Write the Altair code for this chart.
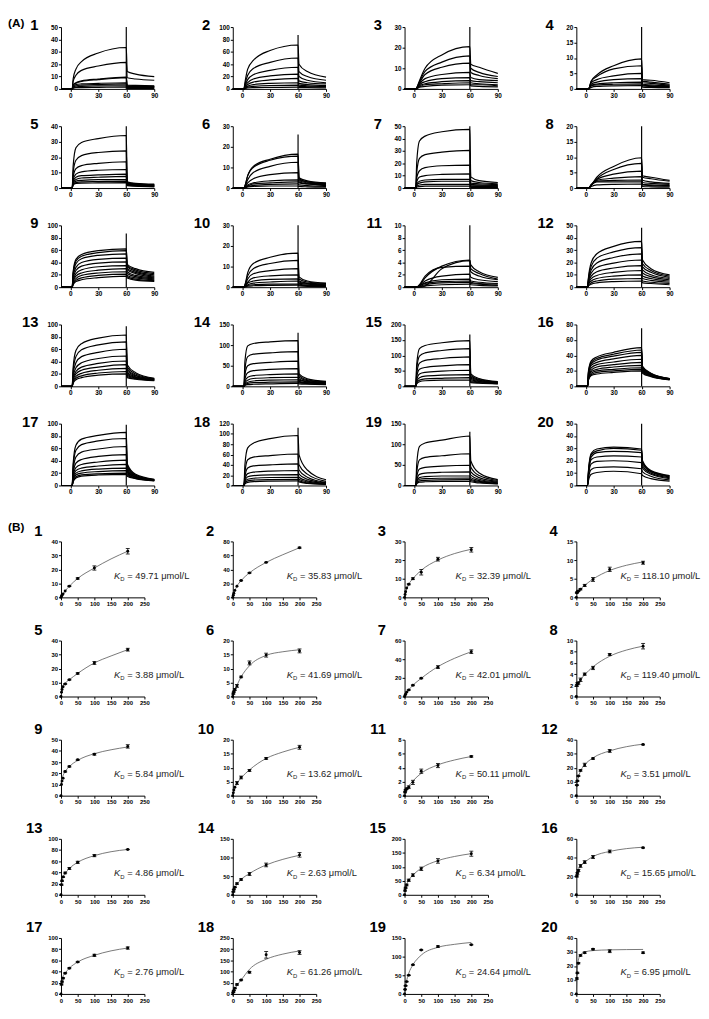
import altair as alt
import pandas as pd

FONT = "Liberation Sans"

# ---------------- (A) sensorgrams ----------------
# sampling times (s) for association and dissociation phases
T_ON = [3, 6, 12, 30, 60]
T_OFF = [61, 70, 90]

A01 = [[8, 16, 22, 29, 33.5, 14, 12, 10], [6, 11, 15, 18.5, 21.5, 9, 8, 7],
       [3, 5, 6.5, 8, 9.5, 3, 2.8, 2.5], [3, 4.5, 6, 7.5, 9, 2.5, 2.3, 2],
       [2, 3.5, 4, 4.5, 5, 2, 2, 1.8], [1.5, 2.5, 3, 3.5, 4, 1.5, 1.5, 1.5],
       [1, 1.5, 2, 2.5, 2.5, 1, 1, 1], [0.5, 1, 1, 1.2, 1.5, 0.5, 0.5, 0.5]]
A02 = [[10, 32, 46, 62, 71, 40, 28, 19], [7, 22, 33, 43, 50, 28, 20, 14],
       [5, 15, 23, 30, 35, 20, 14, 10], [4, 10, 16, 21, 24, 13, 10, 8],
       [3, 7, 11, 14.5, 17, 9, 7, 5.5], [2, 4.5, 7, 9, 10, 6, 5, 4],
       [1, 3, 4, 5.5, 6, 4, 3.5, 3], [0.5, 1.5, 2, 2.5, 3, 2, 2, 1.5]]
A03 = [[0.5, 4, 10, 16.5, 20.5, 12, 10.5, 7.5], [0.5, 3.5, 8.5, 13, 16, 10, 8, 6],
       [0.4, 3, 7, 10.5, 12.5, 8, 6.5, 5], [0.3, 2.5, 5, 7, 8, 5.5, 4.5, 4],
       [0.3, 2, 3.5, 5, 5.5, 4, 3.5, 3], [0.2, 1.5, 2.5, 3.5, 4, 3, 2.5, 2],
       [0.2, 1, 2, 2.5, 3, 2, 2, 1.5], [0.1, 0.8, 1.2, 1.8, 2, 1.5, 1.2, 1]]
A04 = [[0, 2.5, 4.5, 7.5, 9.7, 3, 2.8, 2], [0, 2.5, 4, 6.5, 7.5, 2.5, 2.2, 1.5],
       [0, 2, 3, 4.2, 5, 2, 1.8, 1.2], [0, 1.5, 2.2, 3, 3.3, 1.5, 1.3, 1],
       [0, 1.2, 1.6, 2, 2.2, 1.2, 1, 0.8], [0, 1, 1.3, 1.5, 1.6, 1, 0.8, 0.6],
       [0, 0.5, 0.8, 1, 1.1, 0.6, 0.5, 0.4]]
A05 = [[14, 26, 29.5, 32, 34, 4, 3, 2.5], [10, 18, 21, 23, 24, 3.5, 2.8, 2.2],
       [7, 12.5, 14.5, 16, 17, 3, 2.5, 2], [5, 9, 10.5, 11.5, 12, 2.8, 2.2, 1.8],
       [4, 7, 8, 8.5, 9, 2.5, 2, 1.6], [3.5, 5.5, 6.5, 7, 7.5, 2.2, 1.8, 1.4],
       [3, 4.5, 5, 5.5, 5.5, 2, 1.6, 1.2], [2.5, 3.5, 4, 4.2, 4.5, 1.8, 1.4, 1],
       [2, 3, 3.2, 3.3, 3.5, 1.5, 1.2, 0.8]]
A06 = [[1, 6, 10.5, 14, 16.5, 5, 3.5, 2.5], [1, 6, 10, 13.5, 15.5, 4.5, 3, 2.2],
       [0.8, 4, 7.5, 10.5, 12.5, 4, 3, 2], [0.5, 2.5, 4.5, 6.5, 7.5, 3.5, 2.5, 1.8],
       [0.4, 1.5, 2.5, 3.5, 4, 3, 2, 1.5], [0.3, 1, 2, 2.5, 3, 2.5, 2, 1.2],
       [0.2, 0.8, 1.3, 1.8, 2, 1.5, 1.2, 0.8], [0.1, 0.5, 0.8, 1, 1, 0.8, 0.6, 0.4]]
A07 = [[20, 38, 42, 45.5, 47.5, 9, 6, 4.5], [12, 24, 27, 29, 30.5, 6, 4.5, 3.5],
       [8, 14, 16.5, 18, 18.5, 4, 3.5, 2.8], [5, 9, 10, 11, 11.5, 3, 2.5, 2],
       [3, 5.5, 6.5, 7, 7, 2, 1.8, 1.5], [2.5, 4, 5, 5.5, 5.5, 1.5, 1.3, 1],
       [1.5, 2.5, 3, 3, 3, 1, 1, 0.8], [0.8, 1.2, 1.5, 1.5, 1.5, 0.5, 0.5, 0.5]]
A08 = [[0, 1, 3.5, 7, 9.8, 4, 3.5, 2.5], [0, 1, 3, 6, 8, 3.5, 3, 2.2],
       [0, 1, 2.8, 4.5, 5.5, 2.5, 2, 1.5], [0, 1, 2.5, 3.2, 3.7, 1.8, 1.5, 1.2],
       [0, 1, 2.2, 2.5, 2.6, 1.2, 1, 0.8], [0, 1, 2, 2, 2, 1, 0.8, 0.6],
       [0, 0.5, 1, 1.2, 1.3, 0.5, 0.4, 0.3]]
A09 = [[25, 45, 53, 59, 62, 37, 30, 24], [22, 42, 50, 56, 59, 35, 28, 22],
       [20, 38, 46, 51.5, 54, 33, 26, 20], [17, 32, 40, 45, 47, 30, 24, 18],
       [14, 27, 34, 39, 41, 28, 22, 16.5], [11, 22, 28, 33, 35, 25, 19, 15],
       [9, 18, 23, 27.5, 30, 22, 17, 13.5], [7, 14, 19, 23, 25, 19, 15, 12],
       [5, 11, 15, 19, 21, 17, 13, 10.5], [4, 9, 12, 15.5, 18, 15, 11.5, 9.5]]
A10 = [[1, 7, 11.5, 14.5, 16.5, 5, 3, 2], [1, 5.5, 9, 11.5, 13, 4, 2.5, 1.8],
       [0.8, 4, 6.5, 8, 9, 3, 2, 1.5], [0.5, 2.5, 4.5, 5.5, 6, 2.5, 1.8, 1.2],
       [0.4, 2, 3, 3.8, 4, 2, 1.5, 1], [0.3, 1.2, 2, 2.5, 3, 1.5, 1, 0.8],
       [0.2, 0.8, 1.2, 1.5, 1.5, 1, 0.8, 0.5], [0.1, 0.5, 0.7, 0.9, 1, 0.6, 0.4, 0.3]]
A11 = [[0, 0.3, 1.5, 3.4, 4.4, 3.6, 2.5, 1.6], [0, 0, 0.2, 3, 4.3, 3, 2.2, 1.3],
       [0, 0.4, 1.8, 3.2, 3.4, 2.5, 1.8, 1.2], [0, 0.3, 1, 1.8, 2.1, 1.6, 1.2, 0.9],
       [0, 0.2, 0.7, 1.2, 1.3, 1, 0.8, 0.6], [0, 0.2, 0.6, 0.9, 1, 0.8, 0.6, 0.5],
       [0, 0.1, 0.4, 0.7, 0.8, 0.6, 0.5, 0.3], [0, 0.1, 0.2, 0.4, 0.5, 0.4, 0.3, 0.2]]
A12 = [[8, 20, 27, 33, 37, 22, 15, 10], [7, 17, 23.5, 28.5, 32, 19, 13.5, 9],
       [6, 14, 19.5, 24, 27, 16.5, 12, 8], [5, 11.5, 16, 19.5, 22, 14, 10, 7],
       [4, 9, 12.5, 15.5, 17.5, 11.5, 8.5, 6], [3, 7, 9.5, 12, 13.5, 9, 7, 5],
       [2.5, 5, 7, 9, 10, 7, 5.5, 4], [1.5, 3.5, 5, 6.5, 7, 5, 4, 3],
       [1, 2.5, 3.5, 4.5, 5, 3.5, 3, 2]]
A13 = [[30, 58, 69, 78, 83, 35, 22, 13], [25, 48, 59, 67, 72, 31, 20, 12.5],
       [20, 38, 48, 55, 60, 28, 18, 12], [15, 30, 38, 45, 49, 25, 17, 11.5],
       [12, 24, 31, 37, 41, 22, 15.5, 11], [10, 20, 26, 31, 35, 20, 14.5, 10.5],
       [8, 16, 21, 26, 29, 18, 13.5, 10], [6, 13, 17, 21.5, 24, 16, 12.5, 9.5],
       [5, 10.5, 14, 18, 20, 14, 11.5, 9]]
A14 = [[60, 98, 104, 108, 111, 30, 18, 12], [40, 72, 78, 81, 84, 26, 16, 11],
       [28, 50, 55, 58, 61, 22, 14, 10], [18, 33, 38, 41, 43, 18, 12, 9],
       [12, 22, 26, 28.5, 30, 15, 11, 8], [8, 15, 19, 21, 22, 12, 9, 7],
       [6, 10, 13, 15, 16, 10, 8, 6], [4, 7, 9, 10, 11, 8, 6.5, 5],
       [2, 4, 5, 6, 7, 6, 5, 4]]
A15 = [[70, 122, 132, 141, 148, 40, 25, 15], [55, 98, 108, 116, 122, 35, 22, 14],
       [40, 75, 84, 90, 95, 30, 20, 13], [30, 55, 61, 66, 70, 26, 18, 12],
       [20, 40, 45, 49, 52, 22, 16, 11], [15, 28, 33, 36, 38, 18, 14, 10],
       [10, 20, 24, 26, 28, 15, 12, 9], [8, 15, 18, 20, 20, 12, 10, 8]]
A16 = [[20, 33, 38, 44, 50, 26, 17, 10], [18, 31, 36, 41.5, 47, 25, 16.5, 10],
       [17, 29, 34, 39, 44, 24, 16, 9.8], [15, 27, 31, 35.5, 40, 23, 15.5, 9.6],
       [13, 24, 28, 31.5, 35, 22, 15, 9.4], [12, 21, 25, 28, 31, 21, 14.5, 9.2],
       [11, 19, 22, 25, 27, 20, 14, 9], [10, 17, 20, 22, 24, 19, 13.5, 8.8],
       [9, 15, 18, 20, 22, 18, 13, 8.6], [8, 14, 16, 18, 20, 17, 12.5, 8.4]]
A17 = [[35, 65, 75, 81, 86, 35, 18, 10], [30, 57, 66, 72, 76, 32, 17, 9.6],
       [24, 46, 54, 59, 63, 30, 16, 9.2], [19, 36, 42, 47, 50, 27, 15, 9],
       [15, 29, 34, 38, 41, 25, 14, 8.8], [12, 24, 28, 31.5, 34, 23, 13.5, 8.5],
       [10, 20, 23.5, 26.5, 28, 21, 13, 8.2], [8, 17, 20, 22.5, 24, 19, 12, 8],
       [7, 14, 17, 19, 20, 17, 11.5, 7.8], [6, 12, 15, 17, 18, 15, 11, 7.5]]
A18 = [[40, 73, 82, 91, 97, 60, 30, 11], [25, 50, 55, 58, 61, 40, 22, 8],
       [17, 34, 38, 40, 42, 30, 16, 6], [12, 23, 26, 28, 29, 22, 12, 5],
       [9, 17, 19, 20.5, 21, 16, 9, 4], [7, 12, 14, 15.5, 16, 12, 7, 3],
       [5, 9, 10.5, 11.5, 12, 9, 5, 2.5], [3, 6, 7.5, 8.5, 9, 7, 4, 2]]
A19 = [[50, 95, 103, 110, 120, 60, 30, 14], [30, 62, 68, 72, 77, 45, 24, 12],
       [20, 40, 44, 47, 49, 33, 19, 10], [13, 27, 30, 32, 33, 25, 15, 8],
       [10, 19, 21.5, 23, 23, 19, 12, 6.5], [8, 15, 16.5, 17.5, 18, 15, 10, 5.5],
       [6, 11, 12.5, 13.5, 14, 12, 8, 4.5], [4, 8, 9, 10, 10, 9, 6, 3.5]]
A20 = [[12, 26, 29.5, 31, 29.5, 20, 12, 8], [11, 25, 28, 30, 28.5, 19, 11.5, 7.5],
       [10, 23, 26.5, 27.5, 26.5, 18, 11, 7], [9, 21, 23, 24, 23, 16, 10, 6.3],
       [8, 17.5, 19.5, 20, 18.5, 14, 9, 5.5], [6, 13, 14.5, 15, 13.5, 11, 7.5, 4.5],
       [4, 9, 10.5, 11.5, 9.5, 8, 5.5, 3.5]]

A_CURVES = [A01, A02, A03, A04, A05, A06, A07, A08, A09, A10,
            A11, A12, A13, A14, A15, A16, A17, A18, A19, A20]
A_YMAX = [50, 100, 30, 20, 40, 30, 50, 20, 100, 30, 10, 50, 100, 150, 200, 80, 100, 120, 150, 50]
A_YSTEP = [10, 20, 10, 5, 10, 10, 10, 5, 20, 10, 2, 10, 20, 50, 50, 20, 20, 20, 50, 10]
A_SPIKE = [50, 87, 30, 20, 40, 26, 50, 20, 87, 30, 10, 48, 97, 130, 168, 75, 98, 112, 130, 50]
A_XTICKS = [0, 30, 60, 90]

# ---------------- (B) steady-state binding ----------------
B_CONC = [0, 1.5625, 3.125, 6.25, 12.5, 25, 50, 100, 200]
B_FIT_X = [0, 5, 12.5, 25, 50, 100, 150, 200]

B_MEAN = [
    [0, 1, 1.5, 2.5, 4.5, 8, 13.5, 21, 33],
    [0, 3, 6, 10, 16, 24, 35, 50, 71],
    [0, 1.5, 3, 5, 7, 10, 13.5, 20.5, 25.5],
    [0, 1.2, 1.5, 1.7, 2.2, 3.2, 4.8, 7.5, 9.3],
    [0, 3, 5, 7, 9, 12, 16.5, 24, 33.5],
    [0, 1, 1.7, 2.5, 3.8, 7, 12, 14.8, 16.3],
    [0, 1.5, 2.5, 4.5, 7, 12, 19.5, 31.5, 48],
    [0, 2, 2.3, 2.4, 3, 4, 5.1, 7.5, 9],
    [0, 10, 13, 15.5, 21.5, 26, 32, 37, 44],
    [0, 1, 2, 3, 4.5, 6.5, 9, 13.3, 17.3],
    [0, 0.5, 0.8, 1.0, 1.2, 1.9, 3.5, 4.3, 5.6],
    [0, 7.5, 10.5, 14, 18, 22, 26.5, 32, 36.5],
    [0, 18, 25, 32, 39, 47, 58, 70, 81],
    [0, 8, 14, 20, 30, 41, 56, 80, 107],
    [0, 15, 25, 35, 52, 70, 93, 121, 147],
    [0, 20, 23, 26, 31, 35, 40.5, 46.5, 50.5],
    [0, 17, 22, 28, 37, 46, 57, 69, 82],
    [0, 8, 15, 25, 42, 62, 97, 175, 185],
    [0, 12, 22, 33, 50, 78, 118, 127, 132],
    [0, 11, 15, 22, 27.5, 29.5, 32, 30.5, 29.5],
]
B_ERR = [
    [0, 0, 0, 0, 0, 0.3, 0.5, 1.5, 2],
    [0, 0, 0, 0, 0, 0.5, 0.5, 0.5, 0.8],
    [0, 0, 0, 0, 0.3, 0.5, 1.5, 1, 1.2],
    [0, 0.1, 0.1, 0.1, 0.2, 0.3, 0.5, 0.6, 0.4],
    [0, 0, 0, 0, 0.3, 0.3, 0.5, 1, 1],
    [0, 0.2, 0.2, 0.3, 0.5, 0.3, 0.7, 0.7, 0.7],
    [0, 0, 0, 0, 0.3, 0.5, 0.5, 1.5, 2],
    [0, 0.2, 0.2, 0.2, 0.3, 0.2, 0.3, 0.2, 0.5],
    [0, 0, 0, 0, 0.5, 0.5, 0.5, 0.8, 1.5],
    [0, 0, 0, 0, 0.5, 0.5, 0.3, 0.3, 0.7],
    [0, 0.1, 0.1, 0.1, 0.2, 0.3, 0.3, 0.3, 0.1],
    [0, 0.3, 0.3, 0.3, 0.5, 1.2, 0.5, 1, 0.3],
    [0, 1, 1, 1, 1.5, 2, 2, 2, 0.5],
    [0, 1, 1, 1, 2, 2, 4, 5, 6],
    [0, 2, 2, 3, 4, 5, 6, 8, 9],
    [0, 1, 1, 1, 1.5, 1.5, 1.5, 1.5, 0.5],
    [0, 1, 1, 1, 1, 1, 1, 2, 2],
    [0, 1, 1, 2, 3, 3, 4, 15, 8],
    [0, 1, 1, 1, 1, 1, 1, 2, 1],
    [0, 0.5, 0.5, 0.5, 0.5, 0.5, 0.5, 1, 0.5],
]
B_FIT = [
    [0, 2, 4.5, 8, 13.5, 21, 27.5, 33],
    [0, 8, 16, 24, 35, 50, 61, 71],
    [0, 3.5, 7, 10, 14.5, 20, 23.5, 25.8],
    [1.0, 1.5, 2.2, 3.2, 4.9, 7.2, 8.6, 9.5],
    [0, 7, 9.5, 12, 16.5, 24, 29, 33.5],
    [0, 1.8, 4, 7, 11, 14.7, 16, 16.7],
    [0, 3, 7, 12, 19.5, 32, 41, 48],
    [1.8, 2.3, 3.0, 3.9, 5.3, 7.2, 8.3, 9.0],
    [11, 17, 21.5, 26, 31.5, 37.5, 41, 43.5],
    [0, 2.2, 4.3, 6.3, 9.2, 13.3, 15.6, 17.3],
    [0.6, 0.9, 1.4, 2.1, 3.2, 4.4, 5.1, 5.6],
    [5, 12, 17.5, 22, 27, 32, 35, 36.8],
    [17, 30, 38, 47, 58, 70, 77, 81],
    [0, 14, 28, 41, 57, 80, 95, 106],
    [10, 32, 52, 70, 95, 122, 137, 147],
    [18, 26, 31, 35, 41, 46.5, 49.5, 51],
    [15, 30, 37, 46, 57, 69, 77, 82],
    [0, 18, 38, 62, 110, 155, 178, 192],
    [0, 30, 55, 78, 104, 125, 133, 138],
    [0, 23, 28, 30, 31, 31.5, 31.7, 31.8],
]
B_KD = ["49.71", "35.83", "32.39", "118.10", "3.88", "41.69", "42.01", "119.40",
        "5.84", "13.62", "50.11", "3.51", "4.86", "2.63", "6.34", "15.65",
        "2.76", "61.26", "24.64", "6.95"]
B_YMAX = [40, 80, 30, 15, 40, 20, 60, 10, 50, 20, 8, 40, 100, 150, 200, 60, 100, 250, 150, 40]
B_YSTEP = [10, 20, 10, 5, 10, 5, 20, 2, 10, 5, 2, 10, 20, 50, 50, 20, 20, 50, 50, 10]
B_XTICKS = [0, 50, 100, 150, 200, 250]

# ---------------- layout / style ----------------
AW, AH = 95, 63
BW, BH = 85, 57
KD_X = [54, 55, 52, 45]


def axis(values, size):
    return alt.Axis(values=values, labelFontSize=size, labelFontWeight="bold", labelFont=FONT,
                    labelColor="black", tickSize=2.5, tickColor="black", tickWidth=1,
                    domainColor="black", domainWidth=1, labelPadding=1, grid=False,
                    title=None, labelFlush=False, labelOverlap=False, format="d")


def text_layer(s, x, y, size, align="left", weight="normal", style="normal", color="black"):
    return alt.Chart(pd.DataFrame({"s": [s]})).mark_text(
        align=align, baseline="alphabetic", fontSize=size, fontWeight=weight,
        fontStyle=style, font=FONT, color=color
    ).encode(x=alt.value(x), y=alt.value(y), text="s:N")


def a_panel(i):
    rows = []
    for c, vals in enumerate(A_CURVES[i]):
        rows.append({"kind": "c", "c": c, "t": -10, "v": 0, "v2": 0})
        rows.append({"kind": "c", "c": c, "t": 2, "v": 0, "v2": 0})
        for t, v in zip(T_ON + T_OFF, vals):
            rows.append({"kind": "c", "c": c, "t": t, "v": v, "v2": v})
    rows.append({"kind": "s", "c": -1, "t": 60, "v": 0, "v2": A_SPIKE[i]})
    df = pd.DataFrame(rows)
    ymax = A_YMAX[i]
    xs = alt.Scale(domain=[-10, 90], nice=False, zero=False)
    ys = alt.Scale(domain=[0, ymax], nice=False)
    base = alt.Chart(df).encode(
        x=alt.X("t:Q", scale=xs, axis=axis(A_XTICKS, 6.5)),
        y=alt.Y("v:Q", scale=ys, axis=axis(list(range(0, ymax + 1, A_YSTEP[i])), 6.5)),
    )
    lines = base.transform_filter(alt.datum.kind == "c").mark_line(
        color="black", strokeWidth=1.2, interpolate="monotone"
    ).encode(detail="c:N")
    spike = base.transform_filter(alt.datum.kind == "s").mark_rule(
        color="black", strokeWidth=1.2
    ).encode(y2="v2:Q")
    layers = [lines, spike, text_layer(str(i + 1), -23, 3, 15, align="right", weight="bold")]
    if i == 0:
        layers.append(text_layer("(A)", -54, 0, 12, weight="bold"))
    return alt.layer(*layers).properties(width=AW, height=AH)


def b_panel(i):
    rows = []
    for x, m, e in zip(B_CONC, B_MEAN[i], B_ERR[i]):
        rows.append({"kind": "p", "x": x, "m": m, "lo": m - e, "hi": m + e})
        if e > 0:
            rows.append({"kind": "e", "x": x, "m": m, "lo": m - e, "hi": m + e})
    for x, f in zip(B_FIT_X, B_FIT[i]):
        rows.append({"kind": "f", "x": x, "m": f, "lo": f, "hi": f})
    df = pd.DataFrame(rows)
    ymax = B_YMAX[i]
    xs = alt.Scale(domain=[0, 250], nice=False)
    ys = alt.Scale(domain=[0, ymax], nice=False)
    xax = axis(B_XTICKS, 6)
    yax = axis(list(range(0, ymax + 1, B_YSTEP[i])), 6)
    X = alt.X("x:Q", scale=xs, axis=xax)
    base = alt.Chart(df).encode(x=X, y=alt.Y("m:Q", scale=ys, axis=yax))
    fit = base.transform_filter(alt.datum.kind == "f").mark_line(
        color="#555555", strokeWidth=0.8, interpolate="monotone")
    ebar = base.transform_filter(alt.datum.kind == "e").mark_rule(
        color="black", strokeWidth=0.8
    ).encode(y=alt.Y("lo:Q", scale=ys, axis=yax), y2="hi:Q")
    cap_lo = base.transform_filter(alt.datum.kind == "e").mark_tick(
        orient="horizontal", size=4, thickness=0.8, color="black", opacity=1
    ).encode(y=alt.Y("lo:Q", scale=ys, axis=yax))
    cap_hi = base.transform_filter(alt.datum.kind == "e").mark_tick(
        orient="horizontal", size=4, thickness=0.8, color="black", opacity=1
    ).encode(y=alt.Y("hi:Q", scale=ys, axis=yax))
    pts = base.transform_filter(alt.datum.kind == "p").mark_circle(
        size=9, color="black", opacity=1)
    x0 = KD_X[i % 4]
    layers = [fit, ebar, cap_lo, cap_hi, pts,
              text_layer(str(i + 1), -19, -6, 15, align="right", weight="bold"),
              text_layer("K", x0, 38, 9.5, style="italic", color="#222222"),
              text_layer("D", x0 + 6.4, 40.5, 6, color="#222222"),
              text_layer("= " + B_KD[i] + " \u03bcmol/L", x0 + 13.5, 38, 9.5, color="#222222")]
    if i == 0:
        layers.append(text_layer("(B)", -54, -11, 12, weight="bold"))
    return alt.layer(*layers).properties(width=BW, height=BH)


a_grid = alt.concat(*[a_panel(i) for i in range(20)], columns=4,
                    spacing={"row": 38, "column": 80}, bounds="flush")
b_grid = alt.concat(*[b_panel(i) for i in range(20)], columns=4,
                    spacing={"row": 44, "column": 90}, bounds="flush")

chart = alt.vconcat(a_grid, b_grid, spacing=26).properties(
    padding=0, background="white"
).configure_view(stroke=None)

chart.save("out.html", embed_options={"renderer": "svg", "actions": False})
